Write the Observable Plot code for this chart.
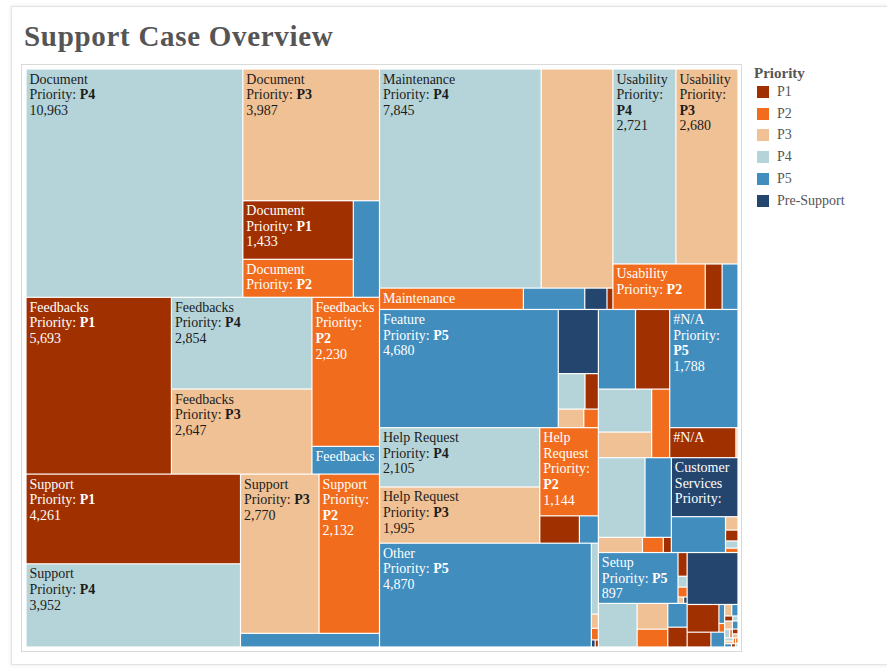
<!DOCTYPE html>
<html>
<head>
<meta charset="utf-8">
<script src="https://cdn.jsdelivr.net/npm/d3@7"></script>
<script src="https://cdn.jsdelivr.net/npm/@observablehq/plot@0.6"></script>
<style>
  html, body { margin: 0; padding: 0; background: #ffffff; }
  body { width: 887px; height: 671px; position: relative; overflow: hidden; font-family: "Liberation Serif", serif; }
  #card { position: absolute; left: 11px; top: 6px; width: 890px; height: 657px; background: #fff;
          border: 1px solid #e4e4e4; box-shadow: 0 0 4px rgba(0,0,0,0.10); }
  #title { position: absolute; left: 24px; top: 22px; font: bold 29px/29px "Liberation Serif", serif;
           color: #555; letter-spacing: 0.7px; white-space: nowrap; }
  #pane { position: absolute; left: 21px; top: 64px; width: 719px; height: 586px; border: 1px solid #d9d9d9; }
  #chart { position: absolute; left: 21px; top: 64px; }
  #chart svg, #chart svg text { font-family: "Liberation Serif", serif !important; }
  .lg-title { position: absolute; left: 754px; top: 66px; font: bold 15px/15px "Liberation Serif", serif; color: #555; }
  .lg-sw { position: absolute; left: 757px; width: 12px; height: 12px; }
  .lg-lb { position: absolute; left: 777px; font: 14px/14px "Liberation Serif", serif; color: #555; white-space: nowrap; }
</style>
</head>
<body>
<div id="card"></div>
<div id="title">Support Case Overview</div>
<div id="pane"></div>
<div id="chart"></div>
<div id="legend"></div>
<script>
// ---- data ----
const priorities = ["P1", "P2", "P3", "P4", "P5", "Pre-Support"];
const palette = ["#a03000", "#f26c1d", "#f0c194", "#b4d4d9", "#408dbe", "#24456e"];
const categories = ["Document", "Feedbacks", "Support", "Maintenance", "Usability", "Feature",
  "Help Request", "Other", "Installation", "#N/A", "Performance", "Customer Services", "Setup",
  "Integration", "Onboarding", "Training", "Licensing", "Billing", "Network", "Hardware",
  "Account", "Data", "Mobile"];
const p1 = [1433, 5693, 4261, 28, 170, 105, 240, 5, 603, 440, 27, 30, 48, 85, 0, 195, 78, 9, 0, 6, 0, 3, 0];
const p2 = [930, 2230, 2132, 680, 930, 60, 1144, 18, 274, 0, 70, 12, 20, 121, 0, 11, 0, 0, 5, 0, 3, 0, 3];
const p3 = [3987, 2647, 2770, 3480, 2680, 105, 1995, 22, 302, 14, 148, 37, 8, 175, 0, 0, 0, 18, 14, 5, 5, 0, 0];
const p4 = [10963, 2854, 3952, 7845, 2721, 210, 2105, 110, 507, 0, 823, 20, 22, 374, 0, 0, 0, 6, 10, 0, 6, 0, 2];
const p5 = [560, 415, 420, 290, 160, 4680, 115, 4870, 655, 1788, 465, 430, 897, 102, 0, 24, 45, 16, 0, 10, 0, 5, 0];
const preSupport = [0, 0, 0, 105, 0, 570, 0, 6, 0, 0, 0, 871, 5, 0, 585, 0, 0, 0, 0, 0, 0, 0, 0];
const series = [p1, p2, p3, p4, p5, preSupport];

// ---- layout via d3 treemap (squarified) ----
const W = 712, H = 578;
const tree = {
  name: "root",
  children: categories.map((c, ci) => ({
    name: c,
    children: priorities.map((p, pi) => ({ name: c, priority: p, value: series[pi][ci] })).filter(d => d.value > 0)
  }))
};
const root = d3.hierarchy(tree).sum(d => d.value || 0).sort((a, b) => b.value - a.value);
d3.treemap().tile(d3.treemapSquarify).size([W, H]).round(false)(root);
const leaves = root.leaves().map(l => ({
  category: l.data.name, priority: l.data.priority, value: l.data.value,
  x0: l.x0, x1: l.x1, y0: l.y0, y1: l.y1
}));

// ---- labels (wrapped like the original) ----
const ctx = document.createElement("canvas").getContext("2d");
const FONT = "'Liberation Serif', serif";
function tw(s, bold) { ctx.font = (bold ? "bold " : "") + "14px " + FONT; return ctx.measureText(s).width; }
const fmt = d3.format(",");
const PAD = 3, FIRST = 14, LH = 15.6;
const spaceW = tw(" ", false);
const texts = [];
for (const d of leaves) {
  const avail = (d.x1 - d.x0) - PAD - 1;
  const groups = [
    d.category.split(" ").map(t => ({ t, b: false })),
    [{ t: "Priority:", b: false }, { t: d.priority, b: true }],
    [{ t: fmt(d.value), b: false }]
  ];
  for (const g of groups) for (const tok of g) tok.w = tw(tok.t, tok.b);
  if (groups[0].some(tok => tok.w > avail)) continue;
  const lines = [];
  for (const g of groups) {
    let cur = [], w = 0;
    for (const tok of g) {
      if (cur.length && w + spaceW + tok.w > avail) { lines.push(cur); cur = [tok]; w = tok.w; }
      else { w += (cur.length ? spaceW : 0) + tok.w; cur.push(tok); }
    }
    if (cur.length) lines.push(cur);
  }
  const dark = d.priority === "P3" || d.priority === "P4";
  for (let i = 0; i < lines.length; i++) {
    const by = d.y0 + FIRST + i * LH;
    if (by + 3 > d.y1) break;
    if (lines[i].some(tok => tok.w > avail)) break;
    let x = d.x0 + PAD;
    for (const tok of lines[i]) {
      texts.push({ x, y: by, text: tok.t, bold: tok.b, dark });
      x += tok.w + spaceW;
    }
  }
}
const txt = (bold, dark) => Plot.text(texts.filter(t => t.bold === bold && t.dark === dark), {
  x: "x", y: "y", text: "text", textAnchor: "start", lineAnchor: "bottom",
  fontSize: 14, fontFamily: "Liberation Serif", fontWeight: bold ? "bold" : "normal",
  fill: dark ? "#1c1c1c" : "#ffffff"
});

const chart = Plot.plot({
  width: 720, height: 588,
  marginLeft: 5, marginRight: 3, marginTop: 5, marginBottom: 5,
  x: { domain: [0, W], range: [5, 717], axis: null },
  y: { domain: [0, H], range: [5, 583], axis: null },
  color: { domain: priorities, range: palette },
  style: { background: "transparent", overflow: "visible", fontFamily: "Liberation Serif, serif" },
  marks: [
    Plot.rect(leaves, { x1: "x0", x2: "x1", y1: "y0", y2: "y1", fill: "priority", inset: 0.6 }),
    txt(false, true), txt(true, true), txt(false, false), txt(true, false)
  ]
});
document.getElementById("chart").appendChild(chart);

// ---- legend ----
const lg = document.getElementById("legend");
const t = document.createElement("div"); t.className = "lg-title"; t.textContent = "Priority"; lg.appendChild(t);
priorities.forEach((p, i) => {
  const top = 86 + i * 21.7;
  const sw = document.createElement("div"); sw.className = "lg-sw";
  sw.style.top = top + "px"; sw.style.background = palette[i]; lg.appendChild(sw);
  const lb = document.createElement("div"); lb.className = "lg-lb";
  lb.style.top = (top - 1) + "px"; lb.textContent = p; lg.appendChild(lb);
});
</script>
</body>
</html>
